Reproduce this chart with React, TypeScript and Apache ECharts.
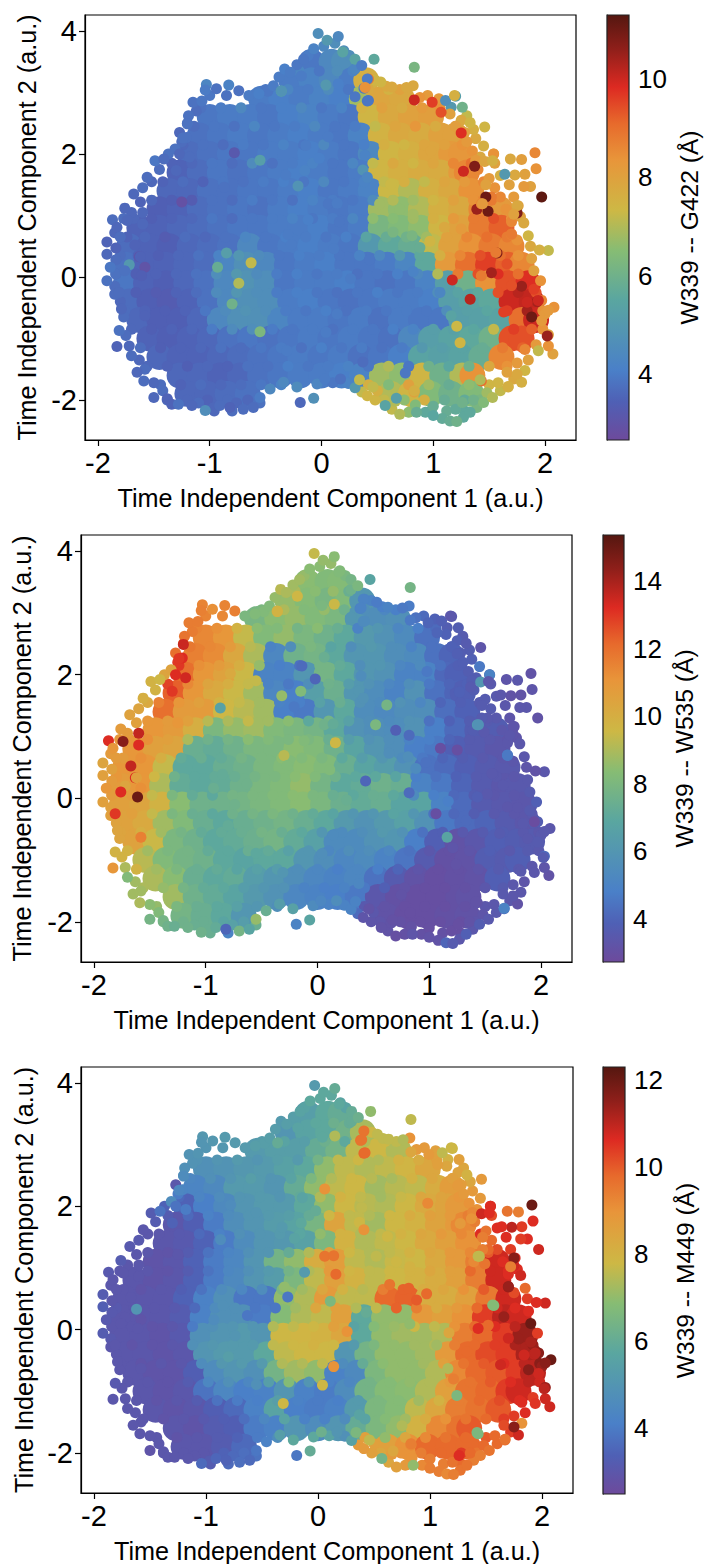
import React, { useEffect, useRef } from "react";
import * as echarts from "echarts";

// Each row of the dense body: y, then x and the three distances (A: G422, B: W535, C: M449)
const bodyY = [3.5, 3.2, 2.9, 2.6, 2.3, 2.0, 1.7, 1.4, 1.1, 0.8, 0.5, 0.2, -0.1, -0.4, -0.7, -1.0, -1.3, -1.6, -1.9];
const bodyX = [
  [-0.09, 0.09, 0.2],
  [-0.27, -0.09, 0.09, 0.27, 0.4],
  [-0.54, -0.36, -0.18, 0, 0.18, 0.36, 0.54, 0.72],
  [-1.0, -0.82, -0.64, -0.46, -0.28, -0.1, 0.08, 0.26, 0.44, 0.62, 0.8, 0.98],
  [-1.09, -0.91, -0.73, -0.55, -0.37, -0.19, -0.01, 0.17, 0.35, 0.53, 0.71, 0.89, 1.07, 1.2],
  [-1.18, -1, -0.82, -0.64, -0.46, -0.28, -0.1, 0.08, 0.26, 0.44, 0.62, 0.8, 0.98, 1.16, 1.25],
  [-1.27, -1.09, -0.91, -0.73, -0.55, -0.37, -0.19, -0.01, 0.17, 0.35, 0.53, 0.71, 0.89, 1.07, 1.25, 1.3],
  [-1.36, -1.18, -1, -0.82, -0.64, -0.46, -0.28, -0.1, 0.08, 0.26, 0.44, 0.62, 0.8, 0.98, 1.16, 1.34],
  [-1.45, -1.27, -1.09, -0.91, -0.73, -0.55, -0.37, -0.19, -0.01, 0.17, 0.35, 0.53, 0.71, 0.89, 1.07, 1.25, 1.43, 1.6],
  [-1.63, -1.45, -1.27, -1.09, -0.91, -0.73, -0.55, -0.37, -0.19, -0.01, 0.17, 0.35, 0.53, 0.71, 0.89, 1.07, 1.25, 1.43, 1.61],
  [-1.72, -1.54, -1.36, -1.18, -1, -0.82, -0.64, -0.46, -0.28, -0.1, 0.08, 0.26, 0.44, 0.62, 0.8, 0.98, 1.16, 1.34, 1.52, 1.7],
  [-1.75, -1.57, -1.39, -1.21, -1.03, -0.85, -0.67, -0.49, -0.31, -0.13, 0.05, 0.23, 0.41, 0.59, 0.77, 0.95, 1.13, 1.31, 1.49, 1.67, 1.79],
  [-1.75, -1.57, -1.39, -1.21, -1.03, -0.85, -0.67, -0.49, -0.31, -0.13, 0.05, 0.23, 0.41, 0.59, 0.77, 0.95, 1.13, 1.31, 1.49, 1.67, 1.85],
  [-1.72, -1.54, -1.36, -1.18, -1, -0.82, -0.64, -0.46, -0.28, -0.1, 0.08, 0.26, 0.44, 0.62, 0.8, 0.98, 1.16, 1.34, 1.52, 1.7, 1.88],
  [-1.63, -1.45, -1.27, -1.09, -0.91, -0.73, -0.55, -0.37, -0.19, -0.01, 0.17, 0.35, 0.53, 0.71, 0.89, 1.07, 1.25, 1.43, 1.61, 1.79, 1.92],
  [-1.54, -1.36, -1.18, -1, -0.82, -0.64, -0.46, -0.28, -0.1, 0.08, 0.26, 0.44, 0.62, 0.8, 0.98, 1.16, 1.34, 1.52, 1.7, 1.79],
  [-1.45, -1.27, -1.09, -0.91, -0.73, -0.55, -0.37, -0.19, -0.01, 0.17, 0.35, 0.53, 0.71, 0.89, 1.07, 1.25, 1.43, 1.61],
  [-1.27, -1.09, -0.91, -0.73, -0.55, -0.37, -0.19, 0, 0.18, 0.36, 0.54, 0.72, 0.9, 1.08, 1.26, 1.35],
  [-1.2, -1.02, -0.84, -0.66, 0.62, 0.8, 0.98, 1.16, 1.34],
];
const bodyA = [
  [3.9, 4.4, 4.6],
  [4.0, 4.2, 4.4, 4.0, 7.6],
  [4, 4.1, 4, 4.2, 4.1, 6.8, 7.9, 7.8],
  [3.9, 4, 4, 3.9, 4.1, 4.2, 4, 3.9, 7.4, 7.8, 8, 8.1],
  [3.8, 3.9, 4, 3.9, 4, 4.1, 4, 3.9, 4.2, 7.5, 7.8, 7.7, 8, 8],
  [3.7, 3.8, 3.9, 3.9, 4, 4, 4.1, 4, 3.9, 4.4, 7.4, 7.6, 7.9, 8.2, 8.3],
  [3.5, 3.7, 3.9, 3.8, 3.9, 4, 4.1, 4, 3.9, 4, 7.4, 7.6, 7.7, 7.7, 8.2, 8.6],
  [3.6, 3.6, 3.8, 3.8, 3.9, 3.9, 4, 4.1, 3.9, 4, 4.2, 7.3, 7.0, 7.6, 7.8, 8.4],
  [3.4, 3.5, 3.7, 3.8, 3.9, 3.8, 4, 4.1, 4, 3.9, 4, 6.8, 6.6, 7, 7.6, 7.8, 8.6, 8.2],
  [3.5, 3.5, 3.6, 3.7, 3.8, 3.9, 3.9, 4, 4, 4.1, 3.9, 4, 6.2, 6.4, 6.6, 7.4, 8, 8.8, 9.2],
  [3.7, 3.5, 3.4, 3.6, 3.7, 3.8, 4.4, 3.9, 4, 4.1, 4, 3.9, 5, 5.6, 5.8, 7.2, 8, 8.4, 8.8, 8.6],
  [3.8, 3.5, 3.5, 3.6, 3.7, 4.3, 4.7, 4.4, 3.9, 4, 4.1, 3.9, 3.9, 4, 4.3, 5.6, 8.2, 9, 9.6, 9.2, 8.6],
  [3.9, 3.5, 3.4, 3.6, 3.8, 4.4, 4.8, 4.6, 3.9, 4, 4, 4.1, 3.9, 3.8, 3.9, 4.2, 5.2, 6, 8.4, 9.4, 9.8],
  [3.7, 3.4, 3.3, 3.5, 3.8, 4.4, 4.7, 4.6, 4, 4.1, 3.9, 3.8, 3.9, 4, 4, 4.1, 5.2, 5.4, 5.6, 10, 10.1],
  [3.6, 3.4, 3.4, 3.6, 4.4, 4.7, 4.7, 4.3, 4, 4, 3.9, 4, 3.8, 4, 3.9, 3.9, 5.2, 5.3, 5.4, 9, 10],
  [3.5, 3.4, 3.5, 3.6, 3.8, 3.9, 3.8, 3.9, 4, 3.9, 4, 3.9, 3.8, 4.4, 5.2, 5.4, 5.6, 6, 9.4, 9.4],
  [3.6, 3.5, 3.5, 3.6, 3.7, 3.8, 3.9, 4, 3.9, 4, 3.8, 3.9, 4.1, 5.4, 5.3, 5.4, 5.8, 8.6],
  [3.6, 3.6, 3.5, 3.6, 3.8, 3.9, 4, 4, 4.1, 4.2, 6.8, 6.6, 7.4, 6, 7, 8.4],
  [3.6, 3.6, 3.7, 3.8, 7, 7.4, 6.4, 6, 6.4],
];
const bodyB = [
  [8.4, 8.2, 8.3],
  [8.6, 8.3, 7.9, 8.2, 6],
  [7.9, 8.4, 8.6, 8.2, 8, 6, 5.6, 5.7],
  [11.4, 11, 9.4, 8.2, 8.6, 8, 7.6, 7, 6.2, 5.8, 5.4, 4.4],
  [11.6, 11.3, 10.3, 9, 5.2, 7.6, 7.8, 7, 6, 6, 5.6, 5.4, 4.4, 4.0],
  [12, 11, 10.5, 9.5, 5, 5, 6, 7.8, 7, 6, 5.8, 5, 5, 4.1, 3.9],
  [12.3, 11, 10.2, 9.5, 8.8, 5.2, 4.8, 6.5, 7.5, 6, 5.5, 5, 5.8, 4.4, 4, 3.8],
  [12, 10.8, 10.8, 9.6, 9.2, 8.8, 4.8, 4.6, 6, 7, 5.5, 5.3, 5.6, 5.6, 4.3, 3.9],
  [11, 10.8, 10, 8, 8.6, 8.8, 8.2, 8, 7.8, 7, 5.8, 5.6, 5.5, 5.8, 4.8, 4.2, 3.7, 3.7],
  [11, 10.6, 10.4, 7.4, 7.2, 7.6, 8, 8, 8.4, 8.2, 7.6, 6.8, 6, 5.6, 4.8, 4.6, 3.8, 3.6, 3.4],
  [11, 11, 9.4, 7, 7, 7.4, 7.6, 8, 8.2, 8.4, 8.2, 7.4, 6.8, 6.4, 5.8, 4.4, 4.2, 3.8, 3.6, 3.5],
  [10.8, 11, 9, 7.2, 7, 7.2, 7.6, 8, 8.2, 8.6, 7.8, 7, 7.2, 7.6, 7.4, 5, 4.6, 4, 3.6, 3.4, 3.5],
  [10.6, 10.4, 9.8, 8.4, 7.6, 7.6, 7.8, 8, 8.2, 8.4, 8, 7.5, 7.2, 7.4, 6.8, 6.8, 5, 4.2, 3.6, 3.5, 3.4],
  [10.5, 10.2, 8.8, 8.2, 7.4, 7, 7.4, 7.6, 7.8, 7.4, 7, 6.2, 5.8, 6.2, 6.6, 5.8, 4.6, 4.2, 4, 3.6, 3.4],
  [10.5, 9.5, 8, 7.6, 7, 7.2, 7.5, 7.8, 7.2, 6.6, 5.4, 5.4, 5.8, 6, 4.8, 3.8, 3.2, 3.4, 3.8, 3.7, 3.6],
  [9.2, 8.2, 7.8, 7.6, 7, 6.8, 7, 7, 6, 5.6, 5.2, 5.4, 5, 4.5, 3.6, 3.1, 3.2, 3.7, 3.6, 3.8],
  [9, 8.4, 7.4, 7, 7.2, 6.4, 6, 5.6, 5.2, 5, 5.2, 4.4, 3.6, 3.2, 3, 3.1, 3.2, 3.8],
  [8.8, 7.6, 7.2, 6.8, 6.2, 5.8, 5.2, 5, 4.8, 4.6, 3.4, 3.1, 3, 3, 3.1, 3.2],
  [7.8, 7.4, 7, 6, 3.2, 3, 3, 3.1, 3.2],
];
const bodyC = [
  [5.4, 5.8, 6],
  [5.0, 5.6, 5.8, 6.3, 7.3],
  [5.2, 5.4, 5.4, 6, 6.4, 7.6, 7.8, 7.4],
  [4.8, 4.9, 5.1, 5.2, 5.5, 5.8, 7, 7.6, 7.4, 7.6, 7.9, 8.4],
  [4.3, 4.5, 5.2, 5.2, 5, 6, 7, 7.6, 7.8, 7.2, 7.5, 7.6, 8.2, 8.7],
  [3.4, 4.1, 4.5, 5, 5.2, 5.2, 5.8, 7, 7.8, 7.5, 7.4, 7.8, 8.3, 8.5, 8.8],
  [3.0, 3.3, 4.0, 4.7, 5, 5.3, 5.6, 6.5, 8.5, 7.6, 7.2, 7.8, 8, 8.5, 8.8, 9.2],
  [3, 3.1, 3.4, 4, 4.6, 5, 5.1, 5.5, 6.6, 8, 7.4, 7.6, 7.8, 8.3, 8.6, 9],
  [2.9, 3, 3.4, 4, 4.4, 5, 6.4, 7, 8.2, 8.7, 7.6, 7.4, 7.7, 7.8, 8.3, 8.8, 9.4, 10.8],
  [3, 2.9, 3, 3.4, 4, 4.5, 5, 5.3, 6.6, 7.6, 8.6, 8, 7.6, 7.8, 8, 8.2, 8.6, 9.4, 10.8],
  [3, 3, 3, 3.4, 4.2, 4.8, 3.9, 3.9, 7, 7.4, 8.8, 7.6, 7.6, 9.8, 9.9, 8.2, 8.2, 8.6, 9.5, 10.8],
  [3, 3, 3, 3.2, 4.2, 4.8, 4.8, 4, 6.8, 7.4, 7.6, 8.6, 5.8, 7, 7, 8.8, 8.6, 9, 10.4, 11, 10.8],
  [3, 3, 2.9, 3.1, 4.8, 5, 5.2, 5, 7.8, 7.9, 8, 8.4, 5.8, 7, 7.2, 7.2, 7.4, 9.4, 9.8, 10.4, 11.4],
  [3, 3, 2.9, 3, 5, 5.2, 5.2, 5.8, 7.6, 7.8, 7.8, 5, 6.4, 7, 7, 7.2, 8.8, 9.8, 10.2, 10.4, 11.2],
  [3, 2.9, 2.9, 3.3, 4.6, 5, 4.8, 6.4, 7.2, 7, 4.2, 4.5, 6.6, 7, 7, 7.4, 9.2, 9.8, 10, 10.4, 11],
  [3, 2.9, 3, 3.8, 4.4, 4.1, 4.2, 5, 4.2, 4, 4.6, 6.4, 6.8, 6.9, 7.4, 8.6, 9.6, 9.8, 10.4, 10.8],
  [3, 2.9, 3, 3.3, 3.6, 4.2, 5.6, 4.1, 4, 4.2, 5.2, 6.6, 6.8, 7.6, 8.4, 9.4, 9.6, 10],
  [3, 2.9, 3.2, 3.3, 4, 4.2, 5, 4.6, 5, 6, 6.6, 7, 8, 9.2, 9.6, 10],
  [3, 3, 3.2, 3.6, 8.6, 9, 9.8, 9.8, 9.8],
];

// Finer points drawn over the body, by row
const fineY = [3.35, 3.05, 2.75, 2.45, 2.15, 1.85, 1.55, 1.25, 0.95, 0.65, 0.35, 0.05, -0.25, -0.55, -0.85, -1.15, -1.45, -1.75, -2.0, -2.18];
const fineX = [
  [-0.2, -0.02, 0.14, 0.28],
  [-0.5, -0.3, -0.12, 0.06, 0.24, 0.42, 0.6],
  [-1.08, -0.9, -0.72, -0.54, -0.36, -0.18, 0, 0.18, 0.36, 0.54, 0.72, 0.9, 1.06],
  [-1.14, -0.96, -0.78, -0.6, -0.42, -0.24, -0.06, 0.12, 0.3, 0.48, 0.66, 0.84, 1.02, 1.2],
  [-1.24, -1.06, -0.88, -0.7, -0.52, -0.34, -0.16, 0.02, 0.2, 0.38, 0.56, 0.74, 0.92, 1.1, 1.26],
  [-1.34, -1.16, -0.98, -0.8, -0.62, -0.44, -0.26, -0.08, 0.1, 0.28, 0.46, 0.64, 0.82, 1, 1.18, 1.34],
  [-1.42, -1.24, -1.06, -0.88, -0.7, -0.52, -0.34, -0.16, 0.02, 0.2, 0.38, 0.56, 0.74, 0.92, 1.1, 1.28, 1.45],
  [-1.52, -1.34, -1.16, -0.98, -0.8, -0.62, -0.44, -0.26, -0.08, 0.1, 0.28, 0.46, 0.64, 0.82, 1, 1.18, 1.36, 1.52],
  [-1.68, -1.52, -1.34, -1.16, -0.98, -0.8, -0.62, -0.44, -0.26, -0.08, 0.1, 0.28, 0.46, 0.64, 0.82, 1, 1.18, 1.36, 1.54, 1.7],
  [-1.74, -1.58, -1.4, -1.22, -1.04, -0.86, -0.68, -0.5, -0.32, -0.14, 0.04, 0.22, 0.4, 0.58, 0.76, 0.94, 1.12, 1.3, 1.48, 1.66],
  [-1.8, -1.64, -1.46, -1.28, -1.1, -0.92, -0.74, -0.56, -0.38, -0.2, -0.02, 0.16, 0.34, 0.52, 0.7, 0.88, 1.06, 1.24, 1.42, 1.6, 1.76],
  [-1.84, -1.66, -1.48, -1.3, -1.12, -0.94, -0.76, -0.58, -0.4, -0.22, -0.04, 0.14, 0.32, 0.5, 0.68, 0.86, 1.04, 1.22, 1.4, 1.58, 1.76],
  [-1.82, -1.66, -1.48, -1.3, -1.12, -0.94, -0.76, -0.58, -0.4, -0.22, -0.04, 0.14, 0.32, 0.5, 0.68, 0.86, 1.04, 1.22, 1.4, 1.58, 1.76, 1.92],
  [-1.76, -1.58, -1.4, -1.22, -1.04, -0.86, -0.68, -0.5, -0.32, -0.14, 0.04, 0.22, 0.4, 0.58, 0.76, 0.94, 1.12, 1.3, 1.48, 1.66, 1.84, 1.98],
  [-1.7, -1.52, -1.34, -1.16, -0.98, -0.8, -0.62, -0.44, -0.26, -0.08, 0.1, 0.28, 0.46, 0.64, 0.82, 1, 1.18, 1.36, 1.54, 1.72, 1.88],
  [-1.62, -1.44, -1.26, -1.08, -0.9, -0.72, -0.54, -0.36, -0.18, 0, 0.18, 0.36, 0.54, 0.72, 0.9, 1.08, 1.26, 1.44, 1.62, 1.8],
  [-1.56, -1.38, -1.2, -1.02, -0.84, -0.66, -0.48, -0.3, -0.12, 0.06, 0.24, 0.42, 0.6, 0.78, 0.96, 1.14, 1.32, 1.5, 1.66],
  [-1.44, -1.26, -1.08, -0.9, -0.72, -0.54, -0.36, 0.42, 0.6, 0.78, 0.96, 1.14, 1.32, 1.5],
  [-1.38, -1.2, -1.02, -0.84, -0.66, 0.56, 0.74, 0.92, 1.1, 1.28, 1.42],
  [-0.96, -0.8, 0.8, 0.98, 1.12, 1.28],
];
const fineA = [
  [4.3, 3.9, 4.6, 4.2],
  [3.9, 4.3, 4, 4.5, 3.9, 7.8, 7.5],
  [3.8, 4, 4.4, 3.9, 4.1, 4.4, 3.9, 4.2, 7.5, 8, 7.7, 8.2, 8.4],
  [3.7, 3.9, 3.8, 4.3, 3.9, 4, 4.4, 3.9, 4, 7.2, 7.9, 8.3, 7.7, 8.2],
  [3.6, 3.8, 3.7, 4, 3.9, 4.2, 3.9, 4.4, 3.9, 4.1, 7.6, 7.4, 7.9, 8, 8.4],
  [3.5, 3.6, 3.9, 3.7, 4.5, 3.8, 4, 4.2, 3.9, 4.3, 7.2, 7.8, 7.4, 7.9, 8.6, 9],
  [3.5, 3.7, 3.5, 3.9, 3.8, 4, 4.1, 3.9, 4.4, 3.9, 4.2, 7.2, 7.6, 7.2, 7.9, 8.2, 8.6],
  [3.6, 3.4, 3.3, 3.8, 3.7, 4, 3.9, 3.8, 4.2, 4, 3.9, 4.5, 7, 6.8, 7.4, 8, 8.4, 8.8],
  [3.6, 3.4, 3.5, 3.6, 3.9, 3.7, 3.9, 4, 4.2, 3.9, 4, 4.3, 6.6, 6.5, 6.8, 7.6, 8.2, 8.8, 9.4, 8.4],
  [3.5, 3.6, 3.3, 3.7, 3.6, 3.8, 4.3, 3.9, 4.1, 4, 3.9, 4.1, 5.4, 5.8, 6, 6.8, 8, 8.6, 9, 8.8],
  [3.7, 3.5, 3.4, 3.6, 3.8, 4.2, 4.9, 4.5, 3.9, 4.1, 4, 3.9, 4.2, 4.4, 5, 5.6, 7.6, 8.6, 9.4, 9, 8.4],
  [3.7, 3.4, 3.5, 3.6, 3.8, 4.6, 5, 4.5, 4, 4.1, 3.9, 4, 3.8, 3.9, 4.1, 4.4, 7, 8.8, 9.4, 9.8, 9],
  [3.8, 3.4, 3.3, 3.5, 3.7, 4.5, 4.9, 4.6, 4, 4.1, 3.9, 3.8, 3.9, 4.1, 3.9, 4, 4.6, 5.4, 5.6, 9.4, 10.2, 9.4],
  [3.7, 3.5, 3.4, 3.5, 3.9, 4.5, 4.8, 4.6, 4, 3.9, 4.1, 3.8, 4, 3.9, 4, 3.9, 4.6, 5.3, 5.5, 9.6, 10.4, 8.4],
  [3.6, 3.4, 3.5, 3.6, 4, 4.5, 4.6, 4, 3.9, 4, 3.8, 4, 3.9, 4.1, 4.2, 5.2, 5.3, 5.5, 7.2, 9.6, 9.2],
  [3.7, 3.4, 3.5, 3.6, 3.8, 3.7, 3.9, 4, 3.8, 4.1, 3.9, 4, 3.8, 4, 5, 5.2, 5.4, 5.8, 8.8, 9.2],
  [3.6, 3.5, 3.4, 3.6, 3.5, 3.8, 3.8, 4.1, 3.9, 4, 4.2, 3.9, 7, 3.9, 6, 5.5, 6, 7.8, 8.4],
  [3.7, 3.5, 3.7, 3.6, 3.7, 3.9, 4.2, 7.6, 6.4, 8, 6.8, 5.8, 6.6, 7.4],
  [3.7, 3.6, 3.5, 3.7, 3.6, 7.2, 6.6, 7.6, 5.8, 5.7, 6.2],
  [3.6, 3.7, 7.2, 5.6, 5.8, 5.6],
];
const fineB = [
  [9, 8.4, 8.6, 7.4],
  [8, 9, 8.2, 8.6, 7.6, 5.6, 5.2],
  [11.5, 11.2, 9.8, 8.4, 8.2, 7.8, 8.4, 7.4, 5, 6, 5.2, 4.8, 4.2],
  [11.8, 11.4, 10.8, 9.2, 5, 5.6, 8, 6.8, 5.6, 6.2, 5.6, 5, 4.4, 3.9],
  [13, 11.2, 10.8, 10, 8.6, 4.8, 4.4, 7.8, 7.2, 5.6, 6, 5.2, 5.4, 4.4, 3.8],
  [12.8, 11.4, 10.4, 10, 9.4, 5, 4.6, 5.6, 7.6, 6.4, 5.8, 5.2, 5.6, 4.6, 4, 3.9],
  [11.6, 11, 10.6, 9.8, 9.4, 8.8, 5, 4.8, 6.6, 7.4, 5.8, 5.4, 5.8, 5.2, 4, 3.8, 3.6],
  [11, 10.8, 10.6, 9.2, 9, 9.4, 8.8, 8.4, 7, 7.8, 6.6, 5.6, 5.4, 5.8, 4.4, 3.9, 3.7, 3.6],
  [11, 11.2, 10.6, 9, 7.6, 7.8, 8.4, 8.2, 8, 8, 7.4, 6.4, 5.8, 5.6, 5, 4.8, 4, 3.6, 3.5, 3.3],
  [10.8, 11.2, 10, 7.2, 7.4, 7.2, 7.8, 8, 8.4, 8.2, 8, 7, 6.4, 6, 5.4, 4.6, 4, 3.7, 3.5, 3.4],
  [11, 10.8, 9.6, 7.6, 7, 7.2, 7.4, 7.8, 8, 8.4, 8.2, 7.6, 7, 7, 6.8, 4.8, 4.4, 3.9, 3.6, 3.5, 3.4],
  [10.6, 10.8, 9.4, 8, 7.2, 7, 7.8, 8, 8.2, 8.4, 8, 7.4, 7, 7.4, 7, 5.4, 4.8, 4.1, 3.7, 3.4, 3.4],
  [10.6, 10.6, 9.4, 8, 7.4, 7, 7.6, 7.8, 8, 7.6, 7.2, 6.8, 6, 6, 6.8, 6, 4.4, 4.1, 3.7, 3.5, 3.4, 3.5],
  [10.4, 10, 8.8, 7.8, 7.2, 7.2, 7.4, 7.8, 7.4, 7, 6, 5.4, 5.6, 6.2, 5.8, 4.4, 3.8, 3.5, 3.6, 3.7, 3.5, 3.4],
  [9.8, 8.8, 8, 7.8, 7.2, 7, 7.4, 7.2, 6.6, 6, 5.2, 5.6, 5.6, 5.2, 4.4, 3.4, 3.1, 3.3, 3.8, 3.5, 3.6],
  [9.8, 8.8, 8, 7.4, 7.2, 6.8, 6.6, 6.4, 5.6, 5.2, 4.8, 5.2, 4.8, 4, 3.3, 3, 3.1, 3.3, 3.6, 3.5],
  [9, 8.6, 7.8, 7.2, 7, 6.4, 6, 5.8, 5, 4.8, 5, 4.6, 3.8, 3.2, 3, 3, 3.1, 3.4, 3.6],
  [8.6, 8, 7.4, 7, 6.6, 6, 5.6, 3.5, 3.2, 3, 3, 3, 3.1, 3.4],
  [7.8, 7.6, 7.4, 6.8, 6.4, 3.3, 3.1, 3, 3, 3, 3.3],
  [7.4, 5, 3.1, 3, 3.1, 3],
];
const fineC = [
  [5.4, 5.8, 6.2, 6],
  [5.3, 5.6, 5.4, 6.2, 5.8, 7.4, 7.8],
  [4.9, 5, 5.2, 5, 5.4, 5.2, 6.4, 7.6, 7.8, 7.4, 8, 8.2, 8.6],
  [4.4, 4.8, 5, 5.4, 5, 5.6, 6.6, 7.4, 7.8, 7.5, 7.3, 8, 8.4, 8.8],
  [3.6, 4.3, 4.6, 5, 5.2, 5, 5.9, 7.4, 8, 7.6, 7.2, 7.7, 8.4, 8.5, 8.9],
  [3.2, 3.6, 4.2, 4.6, 5, 5.2, 5.4, 6, 7.8, 7.6, 7.4, 7.8, 8.2, 8.6, 8.8, 9.4],
  [3, 3.1, 3.6, 4.2, 4.8, 5, 5.2, 5.7, 7, 8, 7.4, 7.6, 8, 8.4, 8.8, 9.2, 10.6],
  [3, 2.9, 3.2, 3.8, 4.3, 4.8, 5, 6, 7.4, 8.6, 7.8, 7.4, 7.6, 8, 8.4, 8.8, 9.2, 10],
  [3, 3, 2.9, 3.2, 3.8, 4.4, 4.8, 5.2, 6.4, 7.4, 8.8, 7.9, 7.6, 7.8, 8, 8.4, 8.6, 9.8, 10.8, 10.6],
  [3, 2.9, 3, 3.3, 3.8, 4.6, 4.4, 4.6, 6.6, 7.2, 8.4, 8, 7.5, 9.4, 9.9, 8.2, 8.4, 9, 10, 10.8],
  [3.1, 3, 3, 3.1, 3.6, 4.6, 4.8, 3.9, 3.9, 7.2, 8.4, 8.6, 7.4, 7.6, 9.9, 9.4, 8.2, 8.8, 9.8, 10.8, 10.6],
  [3, 3, 2.9, 3, 4, 4.8, 5, 5, 7.4, 7.6, 7.8, 8.6, 5.6, 6.8, 7.1, 7.8, 7.6, 9, 9.8, 10.6, 11],
  [3, 2.9, 2.9, 3, 4.8, 5.1, 5.2, 5.2, 7.6, 7.8, 8, 7.8, 5.2, 6.6, 7, 7.2, 7.4, 9.4, 9.8, 10.4, 11.2, 11.4],
  [3, 2.9, 3, 3, 4.6, 5.1, 5.2, 5.2, 7.4, 7.4, 7.6, 4.6, 6, 6.9, 7, 7.2, 8.6, 9.6, 10, 10.6, 11, 11.6],
  [3, 3, 2.9, 3.2, 4.4, 4.8, 4.4, 5.4, 6.8, 5, 4.2, 4.4, 6.4, 6.8, 7, 7.4, 8.8, 9.6, 10, 10.6, 11],
  [3, 2.9, 3, 3.2, 3.8, 4, 4.1, 5.4, 4.2, 4, 4.1, 5.2, 6.6, 6.8, 7.2, 8, 9.4, 9.8, 10.2, 10.6],
  [3, 2.9, 3, 3.1, 3.3, 3.7, 4.4, 5.6, 4.2, 4.2, 4.6, 5.6, 6.8, 7.2, 8.2, 9, 9.6, 9.8, 10.4],
  [3, 2.9, 3, 3.2, 3.4, 4, 4.6, 8.6, 7, 8.4, 9.2, 9.6, 9.8, 10],
  [3, 3, 3, 3.4, 3.7, 8.4, 9, 9.4, 9.8, 10.4, 9.6],
  [3.2, 3.6, 9, 9.6, 9.4, 9.8],
];

// Points that close the gaps along the edge of the cloud: x, y, A, B, C
const gapPoints = [
  [-0.48,3.02,3.9,8.2,5.4],[-0.65,2.95,4,8,5.2],[-0.85,2.95,3.8,11.4,5.1],[-1,2.95,3.9,11.5,5],[-1.12,2.7,3.7,11.7,4.9],[-1.2,2.5,3.8,12,4.8],[-1.25,2.2,3.7,13,4],[-1.37,2,3.8,10.4,3.4],[-1.45,1.75,3.7,9.8,3.2],[-1.52,1.55,3.6,10.2,3],
  [-1.6,1.45,3.7,10.4,3.1],[-1.62,1.22,3.5,10.6,3],[-1.7,1.05,3.6,10.8,3],[-1.77,0.95,3.7,11,3],[-1.85,0.72,3.6,10.8,3],[-1.84,0.47,3.5,10.6,3],[-1.84,0.28,3.7,10.8,3.1],[-1.84,0.05,3.8,10.8,3],[-1.85,-0.15,3.7,10.6,3.1],[-1.8,-0.4,3.6,10.5,3],
  [-1.77,-0.65,3.7,10.4,3],[-1.75,-0.95,3.7,9.8,3],[-1.72,-1.12,3.6,9,3],[-1.63,-1.35,3.6,8.8,3],[-1.58,-1.5,3.7,8.8,3],[-1.5,-1.72,3.6,8.4,3],[-1.42,-1.85,3.7,8.2,3],[-1.38,-1.98,3.5,7.8,3],[-1.1,-2.05,3.7,7.4,3],[-0.97,-2.13,3.6,7.4,3.2],
  [-0.76,-2.05,3.6,6.6,3.6],[-0.55,-2.05,3.8,7.4,3.8],[0.1,-1.72,3.9,5,5.6],[0.24,-1.73,4.2,5,4.8],[0.36,-1.87,7.2,4.2,8.8],[0.48,-2,7.4,3.3,8.6],[0.63,-2.15,7.2,3.2,8.4],[0.78,-2.2,6.6,3.1,8.8],[0.93,-2.2,5.6,3.1,9.2],[1.08,-2.3,5.7,3.2,9.4],
  [1.27,-2.28,5.6,3.4,9.6],[1.39,-2.12,6.2,3.4,9.4],[1.6,-1.85,7.2,3.5,9.8],[1.72,-1.66,7.8,3.4,10.4],[1.85,-1.35,8,3.3,10.6],[1.92,-1.1,8.2,3.4,10.4],[1.98,-0.85,8.4,3.5,10.8],[2,-0.6,8.2,3.5,11.4],[1.9,-0.2,9.6,3.6,11.2],[1.88,0.3,8,3.5,10.6],
  [1.87,0.5,7.8,3.3,10.4],[1.78,0.98,8,3.3,10.6],[1.72,1.3,8.2,3.3,10.4],[1.68,1.5,8,3.4,10.6],[1.6,1.65,7.6,3.5,10.6],[1.55,1.85,8,3.5,10.2],[1.42,1.95,7.8,3.7,9],[1.38,2.25,7.8,3.8,8.8],[1.36,2.4,7.6,3.7,8.4],[1.3,2.62,7.2,3.6,8.4],
  [1.16,2.76,5,3.7,8],[1.05,2.9,8.2,3.9,8.6],[0.95,2.95,8.2,4.2,8.8],[0.7,3.05,8,4.8,7.6],[0.58,3.1,7.8,4.8,7.6],[0.48,3.2,7.4,5,7.8],[0.3,3.38,4.3,7.6,6],[0.25,3.6,4.6,8,5.6],[-0.12,3.6,4,8.6,5.6],[-0.22,3.45,3.9,8.8,5.4],
  [-0.38,3.25,4,8.6,5.3],[0.02,3.75,4.4,8.4,5.8],[0.12,3.8,4.6,8.6,5.8],
  [1.28,2.35,8,3.7,8.7],[1.3,2.2,8.2,3.8,8.8],[1.35,2.05,8.4,3.7,9],[1.25,2.55,7.8,3.8,8.5],[1.15,2.65,8,3.9,8.4],[1.38,1.9,8.2,3.7,9.2],[1.2,2.45,8.1,3.9,8.6],[1.4,1.75,8.6,3.7,9.4],[1.5,1.6,8.2,3.6,9.6],[1.55,1.45,8.4,3.6,9.8],
  [1.47,1.5,8,3.6,9.4],[1.6,1.3,8.6,3.5,10.2],[1.65,1.1,8.4,3.4,10.6],[1.52,1.3,8.8,3.5,9.8],[1.7,0.9,8.6,3.4,10.6],[1.75,0.6,8.4,3.4,10.2],[0.5,-1.85,7.6,3.4,8.6],[0.66,-2.02,7,3.2,8.8],[0.84,-2.08,6.4,3.1,9],[1,-2.1,5.8,3,9.4],
  [1.2,-2.15,5.7,3,9.6],[1.36,-2,6,3.2,9.8],[1.48,-1.88,6.8,3.3,9.8],[1.58,-1.72,7.4,3.4,9.8],[1.66,-1.55,8,3.5,10.2],[1.75,-1.4,8.2,3.4,10.4],[1.82,-1.18,8.6,3.5,10.6],
];

// Outline points of the cloud: x, y, A, B, C
const rimPoints = [
  [-0.03,3.96,4.6,9.4,5.2],[0.15,3.91,4.4,8.4,6],[0.05,3.85,5,8.6,5.8],[-0.07,3.71,4.2,8.4,5.8],[0.2,3.68,4.6,8.2,5.6],[-0.16,3.54,3.9,8.8,5.6],[0.3,3.54,5.4,7.8,6],[0.36,3.44,4,8,6.2],[0.47,3.54,5.6,6.8,7],[0.83,3.41,6.2,7.8,7.6],
  [-0.33,3.38,4.1,9.2,5.2],[-0.28,3.33,4,9,5.4],[-0.43,3.11,4,8.2,5.4],[-1.03,3.13,4.3,11.5,5.1],[-0.83,3.12,4.2,11.5,5.2],[-0.74,3.03,3.8,11.6,5.2],[-1.04,3.04,4,11.6,5],[-0.94,3.06,3.8,11.2,5.1],[-0.56,2.98,4.1,8.2,5.4],[-1.15,2.84,3.8,11.7,4.9],
  [-1.07,2.86,3.9,11.7,5],[-1.19,2.62,3.8,11.9,4.8],[-1.27,2.35,3.6,12,3],[-1.21,2.27,3.8,13.2,4.3],[-1.31,2.08,3.8,10.5,4.6],[-1.49,1.89,3.9,9.8,3.2],[-1.56,1.62,3.7,10,3],[-1.41,1.92,3.7,9.6,3.8],[-1.68,1.35,3.6,10.5,3.1],[-1.76,1.12,3.6,10.8,3.2],
  [-1.87,0.93,3.7,13.2,3.1],[-1.83,0.81,3.6,11,3],[-1.92,0.57,3.5,10.4,3.2],[-1.8,0.65,3.7,10.8,3],[-1.92,0.37,3.6,10.6,3.3],[-1.89,0.16,3.9,11,3.1],[-1.92,-0.06,3.8,10.6,3.2],[-1.85,-0.28,3.7,10.6,3],[-1.79,-0.52,3.6,10.4,3],[-1.81,-0.87,3.8,9.8,3.1],
  [-1.83,-1.13,3.5,11,3],[-1.7,-1.28,3.7,8.2,3],[-1.65,-1.55,3.6,8.8,3],[-1.59,-1.69,3.7,9,3],[-1.5,-1.96,3.6,7.8,2.9],[-1.34,-2.07,3.5,7.6,3],[-1.28,-2.07,3.8,7.4,3],[-1.16,-2.09,3.6,7.6,3],[-1.04,-2.17,4.6,7.6,3.6],[-0.91,-2.09,3.7,7.2,3.5],
  [-0.82,-2.12,3.5,4,3.4],[-0.7,-2.15,3.7,7.8,3.7],[-0.61,-2.12,3.7,6.8,3.6],[-0.55,-1.96,4,8.6,3.9],[-0.46,-1.82,4.4,7.4,4.2],[-0.34,-1.71,4.4,6.4,5.4],[-0.22,-1.79,4.5,6.6,5.8],[-0.19,-2.04,3.6,5,3.9],[-0.07,-1.97,4.7,6.8,6],[-0.04,-1.74,4.3,5.4,5.8],
  [0.03,-1.66,4,5.2,6.2],[0.17,-1.66,3.8,5.5,5],[0.3,-1.8,5,5,5.5],[0.41,-1.93,7.4,3.3,8.8],[0.57,-2.09,5.4,3.2,6.4],[0.7,-2.23,7,3,8.6],[0.85,-2.2,5.8,3.3,7],[1,-2.25,5.5,3.2,9.4],[1.15,-2.34,5.8,4,9.2],[1.21,-2.35,6,3.6,9.4],
  [1.33,-2.2,5.6,3.8,9.6],[1.45,-2.04,6.4,3.7,9.4],[1.53,-1.96,7,3.5,9.6],[1.67,-1.79,7.6,4.2,9.8],[1.79,-1.71,7.6,3.2,10.8],[1.82,-1.52,7.4,3.4,9],[2.07,-1.25,8,3.2,10.8],[2.03,-1.12,8.4,3.3,10.8],[1.94,-1.2,7.2,3.4,10.5],[2.03,-0.94,8,4.2,11.4],
  [1.97,-0.71,8.2,3.6,10.8],[2.08,-0.49,8.4,3.4,12],[2.03,-0.54,8.2,3.5,11.6],[1.97,-0.38,8.6,3.7,11.6],[1.96,-0.06,8.4,3.8,10.4],[1.9,0.1,8,3.6,12],[2.03,0.43,7.2,3.4,10.8],[1.95,0.44,7.6,3.2,10.6],[1.85,0.67,7.4,3.4,9.8],[1.81,0.88,7.8,3.4,10.8],
  [1.76,1.16,8,3.2,10.6],[1.97,1.3,11.2,3.2,10.8],[1.87,1.47,8,3.4,10.6],[1.81,1.47,8.2,3.4,10.4],[1.82,1.67,8,3.2,10.4],[1.92,1.76,8.4,3.3,10.6],[1.73,1.66,7.8,3.2,11],[1.64,1.67,5,3.4,10.6],[1.91,2.02,8.6,3.2,12],[1.79,1.91,8.1,3.4,9.4],
  [1.69,1.92,7.8,3.3,9.6],[1.54,2,7.4,3.5,10.8],[1.45,2.13,7.6,4.6,8.8],[1.46,2.44,7.4,3.3,8.8],[1.33,2.51,7.4,3.6,8],[1.26,2.76,6,3.7,8.6],[1.2,2.94,5.2,3.5,7.8],[1.11,2.87,4.6,3.8,7.6],[0.99,2.84,9.6,4,8.8],[0.88,2.92,8.4,4.4,8.8],
  [0.82,3.11,7.8,4.7,9],[0.76,3.08,7.8,4.6,7.4],[0.63,3.09,7.8,5,7.6],[0.53,3.17,7.4,4.7,7.6],[0.42,3.22,8.8,5,7.8],
];

// Stand-out points inside the cloud: x, y, A, B, C
const speckPoints = [
  [1.37,1.8,10.8,3.6,9],[1.27,1.72,10,3.9,8.8],[1.49,1.07,11,3.5,9.6],[1.75,1.04,10.8,3.3,10.8],[1.39,1.1,10.5,3.7,9.2],[1.47,1.3,11,3.6,9.4],[1.07,2.68,9.4,4,8.6],[1.25,2.34,9.8,3.8,8.8],[0.83,2.88,10,4.6,8.4],[0.38,3.07,4,5,9.6],
  [0.41,2.86,3.9,5.4,9.8],[0.3,2.93,3.9,6,7.6],[1.57,0.39,10.8,3.5,6.8],[1.52,0.07,10.4,3.5,9.8],[1.17,-0.05,10,4.8,8.4],[1.33,-0.36,10.2,4.2,9.8],[1.88,-0.65,11,3.5,11.6],[1.93,-0.4,10.4,3.6,11],[2.02,-0.96,10.5,3.6,11],[1.79,-0.15,10.5,3.4,11.4],
  [1.84,-0.41,10,3.5,10.8],[1.43,-1.69,9,3.3,6.6],[1.21,-0.8,7.3,3.3,9.4],[1.24,-1.07,7.4,3.2,6.6],[0.75,-1.56,3.9,3.2,7.4],[0.83,-1.87,8,3,9.2],[0.67,-1.97,5.2,3.1,8.4],[-0.93,0.16,5.8,7.4,4.6],[-0.74,-0.1,7,7.6,5],[-0.63,0.23,7.2,7.6,3.9],
  [-0.8,-0.44,6,7.2,5.4],[-0.55,-0.89,6.3,7,4.8],[-0.85,0.39,5.2,7.2,4.8],[-1.72,0.2,5,10.4,3],[-1.58,0.16,3,11.2,2.9],[-1.63,0.33,3.1,13.2,3],[-1.25,1.22,2.9,11,3],[-0.36,3.02,5.2,9.8,5.6],[0.04,3.12,5,8,5.8],[0.19,3.66,5.4,8.2,5.8],
  [-0.55,1.9,5.2,9.4,5],[-0.78,2.02,3.2,10.2,4.6],[-0.21,1.48,4.8,4.6,5.6],[0.37,1.74,4.8,6,7.8],[0.39,1.98,4.2,5.5,7.6],[0.37,-1.38,3.7,5.2,5.6],[0.46,-1.79,7.2,3.2,7.6],[0.34,-1.67,7.2,5,6.6],[-1.74,0.92,3.6,14.5,3],[-1.6,1.05,3.6,13.6,3],
  [-1.6,0.86,3.6,13.2,3],[-1.67,0.52,3.5,13.6,3],[-1.76,0.1,3.8,13.2,3],[-1.61,0.02,3.4,15,3],[-1.81,-0.25,3.7,13,3],[-1.58,-0.63,3.5,11.6,3],[-1.2,2.49,3.8,13.5,4.6],[-1.24,2.26,3.8,13,4.4],[-1.27,2,3.6,13.2,3.8],[-1.18,1.95,3.7,13.4,4],
  [-1.3,1.73,3.6,13,3.4],[-0.87,1.46,3.8,6.6,4.6],[-0.36,3.03,4.8,9.8,6],[-0.18,3.27,4,9.6,5.6],[0.15,3.14,4.1,9.5,7.4],[0.41,3.22,4,5,9.6],[1.19,2.95,7.6,3.4,7.8],[1.54,2,8.4,5,10.6],[1.46,1.88,7.9,6,10.8],[-0.14,2.14,4,4.2,5.6],
  [-0.02,1.93,4.1,4,6],[-0.32,1.66,4,8.6,5.2],[-0.15,1.73,4.2,8.2,5.8],[1.16,-0.63,5.4,6.8,7.4],[1.25,0.78,8.2,3,8.6],[1.1,0.81,7.8,3,8.2],[1.06,-0.25,4.3,3,7.2],[0.7,1.1,6.6,3.8,7.8],[0.82,1.02,6.8,4.2,8],[0.43,0.28,3.9,4,6],
  [0.82,0.09,4.2,4.2,7],[0.52,1.19,6.8,8,7.6],[0.62,1.51,7.3,7.8,7.8],[0.16,0.9,3.9,9.6,9.8],[-0.3,0.69,4,9.2,7],[1.43,1.19,8.6,6,7.6],[1.7,0.69,8.6,4.6,11.4],[1.94,-0.38,10,2.9,11],[1.67,-1.78,7.6,5,9.6],[0.83,-1.85,7.6,3,9.4],
  [-1.62,0.33,3.5,10.6,5],[0.06,2.28,4,7.4,9],[0.39,3.08,8.4,5,9.6],[0.42,2.87,3.9,5.4,9.8],[0.98,2.05,7.9,4.6,9.2],[0.41,1.62,4.3,5.8,9],[0.06,1.19,3.9,7.6,9.6],[0.14,1.2,4,7.2,9.6],[-0.12,0.93,4.1,8.2,5.2],[-0.27,0.53,4,8.2,3.9],
  [0.11,0.46,4,8.2,6.6],[1.56,0.4,8.8,3.5,6.8],[1.43,0.02,8.8,3.8,10.6],[1.7,-0.14,9.4,3.4,10.8],[1.42,-1.67,7,3.2,6.6],[1.75,-1.58,7.8,3.4,11.6],[1.26,-2.04,6,3,10.6],[1.63,-0.57,9.6,3.6,10.8],[0.14,-0.6,4,5.4,9],[0.04,-0.9,4,5.6,7.8],
  [-0.31,-1.2,4,6,7.8],[0.26,-0.03,4,7.4,9],[1.75,1.16,7.8,3.3,11.6],[1.7,0.7,8.8,4.6,11.4],[1.66,0.21,9.4,3.5,11.4],[1.53,1.89,7.6,3.4,10.6],[1.72,1.02,8,3.4,9.4],[1.44,1.19,8.2,5.8,7.6],[0.97,0.58,7.4,4.4,9.8],[0.81,0.67,6.2,5.6,9.9],
  [0.64,0.73,6.2,5.6,9.6],[0.88,0.48,5.8,5.4,10],
];

const colorStops: [number, string][] = [
  [0, "#6d4a9c"], [0.09, "#4f60b5"], [0.165, "#4a80c8"], [0.33, "#5aa6a0"], [0.445, "#86bc74"], [0.54, "#cdb845"],
  [0.66, "#e8953a"], [0.745, "#e76a2c"], [0.83, "#dd2a22"], [0.92, "#8f1f1a"], [1, "#551710"],
];

const xTicks = [-2, -1, 0, 1, 2];
const yTicks = [-2, 0, 2, 4];
const panels = [
  { key: 2, title: "W339 -- G422 (Å)", min: 2.66, max: 11.3, ticks: [4, 6, 8, 10], left: 85, top: 15, width: 491, height: 425, barLeft: 607, barWidth: 22, yGap: 46, barGap: 48 },
  { key: 3, title: "W339 -- W535 (Å)", min: 2.73, max: 15.36, ticks: [4, 6, 8, 10, 12, 14], left: 81, top: 535, width: 491, height: 427, barLeft: 603, barWidth: 21, yGap: 47, barGap: 48 },
  { key: 4, title: "W339 -- M449 (Å)", min: 2.48, max: 12.3, ticks: [4, 6, 8, 10, 12], left: 81, top: 1067, width: 492, height: 427, barLeft: 603, barWidth: 22, yGap: 45, barGap: 48 },
];

const toRgb = (h: string) => [1, 3, 5].map((i) => parseInt(h.slice(i, i + 2), 16));
function colorAt(t: number) {
  const f = Math.max(0, Math.min(1, t));
  for (let i = 1; i < colorStops.length; i++) {
    if (f <= colorStops[i][0]) {
      const [p0, c0] = colorStops[i - 1];
      const [p1, c1] = colorStops[i];
      const k = (f - p0) / (p1 - p0);
      const a = toRgb(c0), b = toRgb(c1);
      return `rgb(${a.map((v, j) => Math.round(v + (b[j] - v) * k)).join(",")})`;
    }
  }
  return colorStops[colorStops.length - 1][1];
}

const bodyValues = [bodyA, bodyB, bodyC];
const fineValues = [fineA, fineB, fineC];
const FONT = "Liberation Sans";

function buildOption() {
  const grid: any[] = [], xAxis: any[] = [], yAxis: any[] = [], series: any[] = [];
  panels.forEach((p, i) => {
    const body: number[][] = [];
    bodyY.forEach((y, r) => bodyX[r].forEach((x, c) => body.push([x, y, bodyValues[i][r][c]])));
    const fine: number[][] = [];
    fineY.forEach((y, r) => fineX[r].forEach((x, c) => fine.push([x, y, fineValues[i][r][c]])));
    const rim = [...gapPoints, ...rimPoints, ...speckPoints].map((d) => [d[0], d[1], d[p.key]]);
    const itemStyle = { opacity: 1, color: (q: any) => colorAt((q.value[2] - p.min) / (p.max - p.min)) };
    grid.push({ left: p.left, top: p.top, width: p.width, height: p.height, show: true, borderColor: "#000", borderWidth: 1.2, backgroundColor: "#fff" });
    xAxis.push({
      type: "value", gridIndex: i * 2, min: -2.116, max: 2.277, name: "Time Independent Component 1 (a.u.)", nameLocation: "middle", nameGap: 45,
      nameTextStyle: { fontFamily: FONT, fontSize: 25.2, color: "#000" }, splitLine: { show: false },
      axisLine: { onZero: false, lineStyle: { color: "#000", width: 1.2 } },
      axisTick: { customValues: xTicks, length: 6, lineStyle: { color: "#000", width: 1.2 } },
      axisLabel: { customValues: xTicks, fontFamily: FONT, fontSize: 29, color: "#000", margin: 8 },
    });
    yAxis.push({
      type: "value", gridIndex: i * 2, min: -2.65, max: 4.26, name: "Time Independent Component 2 (a.u.)", nameLocation: "middle", nameGap: p.yGap,
      nameTextStyle: { fontFamily: FONT, fontSize: 25.2, color: "#000" }, splitLine: { show: false },
      axisLine: { onZero: false, lineStyle: { color: "#000", width: 1.2 } },
      axisTick: { customValues: yTicks, length: 6, lineStyle: { color: "#000", width: 1.2 } },
      axisLabel: { customValues: yTicks, fontFamily: FONT, fontSize: 29, color: "#000", margin: 8 },
    });
    series.push({ type: "scatter", xAxisIndex: i * 2, yAxisIndex: i * 2, data: body, symbolSize: 26, itemStyle, silent: true, z: 2 });
    series.push({ type: "scatter", xAxisIndex: i * 2, yAxisIndex: i * 2, data: [...fine, ...rim], symbolSize: 11, itemStyle, silent: true, z: 3 });

    grid.push({ left: p.barLeft, top: p.top, width: p.barWidth, height: p.height, show: false });
    xAxis.push({ type: "value", gridIndex: i * 2 + 1, min: 0, max: 1, show: false });
    yAxis.push({
      type: "value", gridIndex: i * 2 + 1, position: "right", min: p.min, max: p.max, name: p.title, nameLocation: "middle", nameGap: p.barGap,
      nameRotate: 90, nameTextStyle: { fontFamily: FONT, fontSize: 24.6, color: "#000" }, splitLine: { show: false },
      axisLine: { show: true, lineStyle: { color: "#222", width: 1.2 } },
      axisTick: { customValues: p.ticks, length: 5, lineStyle: { color: "#222", width: 1.2 } },
      axisLabel: { customValues: p.ticks, fontFamily: FONT, fontSize: 26, color: "#000", margin: 9 },
    });
    series.push({
      type: "custom", xAxisIndex: i * 2 + 1, yAxisIndex: i * 2 + 1, silent: true, data: [[0, p.min, 1, p.max]], clip: false,
      renderItem: (_: any, api: any) => {
        const a = api.coord([api.value(0), api.value(1)]);
        const b = api.coord([api.value(2), api.value(3)]);
        return {
          type: "rect",
          shape: { x: a[0], y: b[1], width: b[0] - a[0], height: a[1] - b[1] },
          style: {
            fill: new echarts.graphic.LinearGradient(0, 1, 0, 0, colorStops.map(([offset, color]) => ({ offset, color }))),
            stroke: "#222", lineWidth: 1.2,
          },
        };
      },
    });
  });
  return { animation: false, backgroundColor: "#fff", grid, xAxis, yAxis, series };
}

export default function App() {
  const ref = useRef<HTMLDivElement>(null);
  useEffect(() => {
    const chart = echarts.init(ref.current!, undefined, { renderer: "svg" });
    chart.setOption(buildOption() as any);
    return () => chart.dispose();
  }, []);
  return <div ref={ref} style={{ position: "absolute", left: 0, top: 0, width: 704, height: 1564 }} />;
}
